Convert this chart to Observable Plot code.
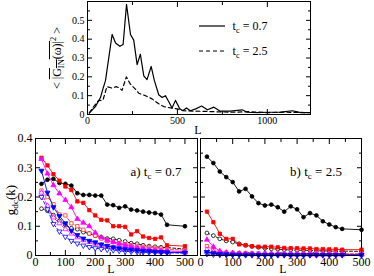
<!DOCTYPE html>
<html><head><meta charset="utf-8">
<script src="https://cdn.jsdelivr.net/npm/d3@7"></script>
<script src="https://cdn.jsdelivr.net/npm/@observablehq/plot@0.6"></script>
<style>
body{margin:0;background:#fff;}
#fig{position:relative;width:374px;height:276px;overflow:hidden;font-family:"Liberation Serif",serif;color:#000;background:#fff;}
#fig svg.p{position:absolute;font-family:"Liberation Serif",serif !important;}
#fig svg text, #fig svg g{font-family:"Liberation Serif",serif !important;}
.t{position:absolute;white-space:nowrap;line-height:1;}
.t sub,.t sup{font-size:70%;line-height:0;}
.ol{text-decoration:overline;}
</style></head><body><div id="fig"></div>
<script>
// ---------- top panel data ----------
const topL07 = [10,44,72,87,100,137,156,180,198,217,239,257,276,294,313,331,354,372,396,415,433,452,470,489,513,530,550,572,602,634,667,703,736,795,860,888,944,1000,1074,1139,1186,1240];
const topV07 = [0.008,0.042,0.09,0.14,0.18,0.425,0.38,0.362,0.372,0.585,0.425,0.395,0.265,0.32,0.205,0.185,0.255,0.18,0.105,0.09,0.1,0.068,0.035,0.075,0.03,0.02,0.035,0.02,0.03,0.045,0.025,0.039,0.018,0.018,0.025,0.012,0.01,0.012,0.013,0.02,0.01,0.01];
const topL25 = [10,33,61,86,108,136,160,179,192,216,238,266,285,322,359,396,424,461,498,535,600,700,800,900,1000,1100,1240];
const topV25 = [0.008,0.04,0.074,0.076,0.148,0.14,0.148,0.14,0.128,0.2,0.162,0.135,0.113,0.1,0.083,0.057,0.042,0.035,0.03,0.02,0.018,0.015,0.012,0.015,0.01,0.012,0.01];

// ---------- bottom panels data ----------
const Lgrid = [20,40,60,80,100,120,140,160,180,200,220,240,260,280,300,320,340,360,380,400,420,440,500];
const aBlack     = [0.245,0.259,0.262,0.248,0.245,0.239,0.213,0.207,0.207,0.205,0.205,0.174,0.172,0.163,0.168,0.157,0.154,0.15,0.147,0.145,0.14,0.105,0.1];
const aRed       = [0.334,0.308,0.278,0.256,0.236,0.224,0.185,0.18,0.155,0.137,0.122,0.12,0.1,0.1,0.098,0.072,0.083,0.065,0.06,0.057,0.062,0.035,0.032];
const aMagenta   = [0.33,0.28,0.24,0.212,0.19,0.165,0.125,0.112,0.1,0.078,0.062,0.052,0.046,0.04,0.036,0.031,0.027,0.024,0.021,0.019,0.017,0.016,0.013];
const aBlue      = [0.29,0.215,0.165,0.135,0.11,0.085,0.07,0.058,0.05,0.045,0.038,0.033,0.028,0.025,0.022,0.02,0.018,0.016,0.015,0.013,0.012,0.011,0.01];
const aBlackOpen = [0.16,0.153,0.138,0.118,0.105,0.093,0.09,0.08,0.075,0.068,0.062,0.058,0.057,0.052,0.048,0.042,0.04,0.035,0.032,0.03,0.028,0.027,0.022];
const aRedOpen   = [0.222,0.2,0.175,0.14,0.137,0.11,0.1,0.088,0.075,0.068,0.058,0.05,0.046,0.042,0.038,0.035,0.033,0.03,0.028,0.026,0.024,0.022,0.018];
const aMagOpen   = [0.215,0.17,0.13,0.11,0.09,0.075,0.062,0.052,0.046,0.04,0.035,0.03,0.027,0.025,0.022,0.02,0.018,0.016,0.015,0.014,0.013,0.012,0.01];
const aBlueOpen  = [0.2,0.158,0.108,0.082,0.064,0.05,0.041,0.034,0.029,0.025,0.022,0.02,0.018,0.016,0.014,0.013,0.012,0.011,0.01,0.01,0.009,0.009,0.008];

const bBlack     = [0.338,0.316,0.287,0.268,0.251,0.219,0.228,0.202,0.179,0.171,0.174,0.165,0.15,0.168,0.158,0.131,0.145,0.137,0.117,0.106,0.097,0.091,0.088];
const bRed       = [0.15,0.114,0.074,0.057,0.057,0.038,0.035,0.032,0.03,0.03,0.03,0.028,0.026,0.025,0.025,0.024,0.024,0.022,0.022,0.021,0.021,0.02,0.02];
const bMagenta   = [0.054,0.03,0.015,0.01,0.008,0.007,0.006,0.006,0.005,0.005,0.005,0.005,0.005,0.004,0.004,0.004,0.004,0.004,0.004,0.004,0.004,0.004,0.004];
const bBlue      = [0.012,0.008,0.005,0.004,0.003,0.003,0.003,0.003,0.002,0.002,0.002,0.002,0.002,0.002,0.002,0.002,0.002,0.002,0.002,0.002,0.002,0.002,0.002];
const bBlackOpen = [0.077,0.068,0.057,0.05,0.046,0.04,0.035,0.031,0.028,0.025,0.023,0.022,0.02,0.019,0.018,0.018,0.017,0.016,0.016,0.015,0.015,0.015,0.014];
const bRedOpen   = [0.032,0.018,0.012,0.01,0.009,0.008,0.008,0.007,0.007,0.007,0.006,0.006,0.006,0.006,0.006,0.006,0.006,0.006,0.006,0.006,0.006,0.006,0.006];
const bMagOpen   = [0.02,0.012,0.008,0.006,0.005,0.005,0.004,0.004,0.004,0.004,0.004,0.004,0.004,0.003,0.003,0.003,0.003,0.003,0.003,0.003,0.003,0.003,0.003];
const bBlueOpen  = [0.005,0.003,0.002,0.002,0.002,0.002,0.001,0.001,0.001,0.001,0.001,0.001,0.001,0.001,0.001,0.001,0.001,0.001,0.001,0.001,0.001,0.001,0.001];

// tick values
const topXMajor = [0,500,1000], topXMinor = [250,750];
const topYMajor = [0,0.1,0.2,0.3,0.4,0.5], topYMinor = [0.05,0.15,0.25,0.35,0.45,0.55];
const botXMajor = [0,100,200,300,400,500], botXMinor = [50,150,250,350,450];
const botYMajor = [0,0.1,0.2,0.3,0.4], botYMinor = [0.05,0.15,0.25,0.35];

// ---------- helpers ----------
const triDown = {draw(ctx, size){ const y = Math.sqrt(size/(Math.sqrt(3)*3)); const s3=Math.sqrt(3);
  ctx.moveTo(0, y*2); ctx.lineTo(-s3*y, -y); ctx.lineTo(s3*y, -y); ctx.closePath(); }};
const blank = () => "";
const fmt = d => String(d);
const SERIF = "Liberation Serif";

function axes(xMaj, xMin, yMaj, yMin, xLab, yLab, fs){
  const m = [];
  for (const a of ["bottom","top"]) {
    m.push(Plot.axisX(xMaj, {anchor:a, tickSize:-5, tickFormat:blank, label:null}));
    m.push(Plot.axisX(xMin, {anchor:a, tickSize:-3, tickFormat:blank, label:null}));
  }
  for (const a of ["left","right"]) {
    m.push(Plot.axisY(yMaj, {anchor:a, tickSize:-5, tickFormat:blank, label:null}));
    m.push(Plot.axisY(yMin, {anchor:a, tickSize:-3, tickFormat:blank, label:null}));
  }
  if (xLab) m.push(Plot.axisX(xMaj, {anchor:"bottom", tickSize:0, tickPadding:2, tickFormat:fmt, label:null, fontFamily:SERIF, fontSize:fs}));
  if (yLab) m.push(Plot.axisY(yMaj, {anchor:"left", tickSize:0, tickPadding:3, tickFormat:fmt, label:null, fontFamily:SERIF, fontSize:fs}));
  return m;
}

const rows = (xs, vs) => xs.map((L,i) => ({L, v: vs[i]}));

const seriesStyle = [
  {key:"blackOpen", color:"#000000", symbol:"circle",  open:true},
  {key:"redOpen",   color:"#ff3030", symbol:"square",  open:true},
  {key:"magOpen",   color:"#ff00ff", symbol:"triangle",open:true},
  {key:"blueOpen",  color:"#0000ff", symbol:triDown,   open:true},
  {key:"black",     color:"#000000", symbol:"circle",  open:false},
  {key:"red",       color:"#ff0000", symbol:"square",  open:false},
  {key:"magenta",   color:"#ff00ff", symbol:"triangle",open:false},
  {key:"blue",      color:"#0000ff", symbol:triDown,   open:false}
];

function seriesMarks(set){
  const m = [];
  for (const s of seriesStyle) {
    const d = rows(Lgrid, set[s.key]);
    m.push(Plot.line(d, {x:"L", y:"v", stroke:s.color, strokeWidth:0.9, strokeDasharray: s.open ? "3,2" : null}));
    m.push(Plot.dot(d, {x:"L", y:"v", symbol:s.symbol, r:1.9, stroke:s.color, strokeWidth:0.8, fill: s.open ? "white" : s.color}));
  }
  return m;
}

const fig = document.getElementById("fig");
function place(svg, left, top){ svg.classList.add("p"); svg.style.left = left+"px"; svg.style.top = top+"px";
  svg.querySelectorAll("text").forEach(t => t.setAttribute("font-family", "Liberation Serif"));
  fig.appendChild(svg); }

const baseStyle = fs => ({background:"transparent", fontSize: fs+"px", fontFamily:"Liberation Serif", color:"#000"});

// ---------- top panel ----------
const topPlot = Plot.plot({
  width: 374, height: 135,
  marginLeft: 87, marginRight: 64, marginTop: 1, marginBottom: 21,
  x: {domain:[0,1240], label:null},
  y: {domain:[0,0.6], label:null},
  style: baseStyle(10),
  marks: [
    ...axes(topXMajor, topXMinor, topYMajor, topYMinor, true, true, 10),
    Plot.frame({stroke:"#000"}),
    Plot.line(rows(topL25, topV25), {x:"L", y:"v", stroke:"#000", strokeWidth:1.2, strokeDasharray:"4,3"}),
    Plot.line(rows(topL07, topV07), {x:"L", y:"v", stroke:"#000", strokeWidth:1.2})
  ]
});
place(topPlot, 0, 0);

// ---------- bottom panels ----------
const setA = {black:aBlack, red:aRed, magenta:aMagenta, blue:aBlue, blackOpen:aBlackOpen, redOpen:aRedOpen, magOpen:aMagOpen, blueOpen:aBlueOpen};
const setB = {black:bBlack, red:bRed, magenta:bMagenta, blue:bBlue, blackOpen:bBlackOpen, redOpen:bRedOpen, magOpen:bMagOpen, blueOpen:bBlueOpen};

const leftPlot = Plot.plot({
  width: 200, height: 146,
  marginLeft: 35, marginRight: 3, marginTop: 8, marginBottom: 21,
  x: {domain:[0,542], label:null},
  y: {domain:[0,0.4], label:null},
  style: baseStyle(12),
  marks: [
    ...axes(botXMajor, botXMinor, botYMajor, botYMinor, true, true, 12),
    ...seriesMarks(setA),
    Plot.frame({stroke:"#000"})
  ]
});
place(leftPlot, 0, 130);

const rightPlot = Plot.plot({
  width: 179, height: 146,
  marginLeft: 5, marginRight: 13, marginTop: 8, marginBottom: 21,
  x: {domain:[0,500], label:null},
  y: {domain:[0,0.4], label:null},
  style: baseStyle(12),
  marks: [
    ...axes(botXMajor, botXMinor, botYMajor, botYMinor, true, false, 12),
    ...seriesMarks(setB),
    Plot.frame({stroke:"#000"})
  ]
});
place(rightPlot, 195, 130);

// ---------- text annotations ----------
function txt(html, x, y, size, rot){
  const d = document.createElement("div");
  d.className = "t"; d.innerHTML = html;
  d.style.left = x+"px"; d.style.top = y+"px"; d.style.fontSize = size+"px";
  d.style.transform = "translate(-50%,-50%)" + (rot ? " rotate(-90deg)" : "");
  fig.appendChild(d);
}
txt('&lt; <span class="ol">|G<sub>IN</sub>(ω)|</span><sup>2</sup> &gt;', 57, 58, 12, true);
txt('L', 198, 130, 12);
txt('t<sub>c</sub> = 0.7', 250, 26, 12);
txt('t<sub>c</sub> = 2.5', 250, 51, 12);
txt('g<sub>dc</sub>(k)', 10, 200, 13, true);
txt('a) t<sub>c</sub> = 0.7', 156, 171, 13);
txt('b) t<sub>c</sub> = 2.5', 316, 171, 13);
txt('L', 111, 269, 12);
txt('L', 283, 269, 12);

// legend line samples
const leg = d3.select(fig).append("svg").attr("class","p").attr("width",30).attr("height",40)
  .style("left","198px").style("top","16px");
leg.append("line").attr("x1",1).attr("x2",27).attr("y1",10).attr("y2",10).attr("stroke","#000").attr("stroke-width",1.2);
leg.append("line").attr("x1",1).attr("x2",27).attr("y1",35).attr("y2",35).attr("stroke","#000").attr("stroke-width",1.2).attr("stroke-dasharray","4,3");
</script></body></html>
